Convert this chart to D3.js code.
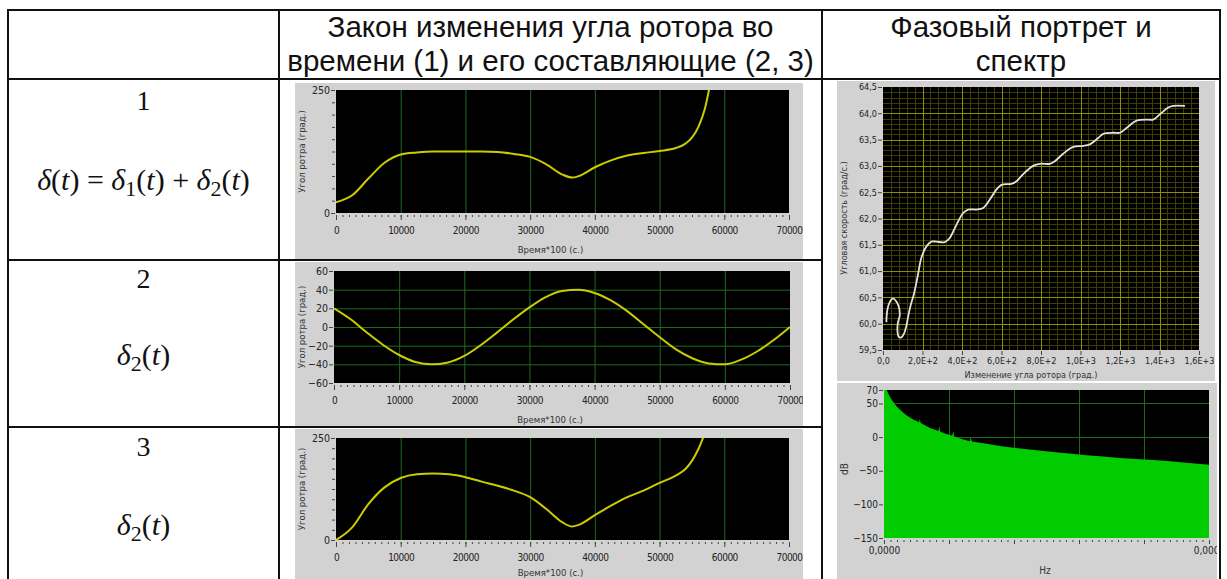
<!DOCTYPE html>
<html>
<head>
<meta charset="utf-8">
<script src="https://cdn.jsdelivr.net/npm/d3@7"></script>
<style>
  body { margin: 0; background: #fff; }
  svg { display: block; }
</style>
</head>
<body>
<script>
// values

// rows 1 and 3: rotor angle vs time (time*100, s)
var timeSteps   = [0, 2500, 5000, 7500, 10000, 12500, 15000, 17500, 20000, 22500, 25000, 27500, 30000, 32500,
                   35000, 36500, 37500, 40000, 42500, 45000, 47500, 50000, 52500, 54000, 55000, 56000, 57000, 58000];
var rotorAngle1 = [22, 36, 70, 102, 119, 123, 125, 125, 125, 125, 124, 120, 114, 99,
                   78, 72, 75, 93, 107, 117, 122, 126, 132, 141, 153, 175, 212, 275];
var rotorAngle3 = [0, 31, 88, 129, 152, 161, 163, 161, 154, 143, 133, 121, 105, 76,
                   43, 33, 37, 61, 84, 105, 121, 140, 158, 174, 194, 223, 262, 300];

// row 2: the harmonic component
var sineSteps   = [0, 2500, 5000, 7500, 10000, 12500, 15000, 17500, 20000, 22500, 25000, 27500, 30000, 32500, 35000,
                   37500, 40000, 42500, 45000, 47500, 50000, 52500, 55000, 57500, 60000, 62500, 65000, 67500, 70000];
var rotorAngle2 = [20, 8.5, -5.7, -19, -30, -37.5, -40, -38, -31, -19.5, -6, 8, 21, 32, 38.5,
                   40, 36.5, 28.5, 17, 3, -11, -24, -33.5, -39, -40, -35, -26, -14, 0];

var timeTicks = [0, 10000, 20000, 30000, 40000, 50000, 60000, 70000];

// phase portrait: rotor angle change (deg) vs angular speed (deg/s)
var phaseAngle = [17, 22, 34, 51, 66, 80, 85, 76, 73, 80, 93, 106, 119, 127, 140, 157, 177, 194, 220, 245, 270, 313, 338,
                  372, 405, 431, 473, 507, 541, 574, 600, 650, 676, 709, 760, 794, 845, 870, 912, 963, 1014, 1047,
                  1090, 1115, 1166, 1200, 1233, 1284, 1343, 1368, 1402, 1444, 1470, 1529];
var phaseSpeed = [60.03, 60.26, 60.41, 60.48, 60.43, 60.32, 60.16, 60.03, 59.87, 59.75, 59.74, 59.81, 59.97, 60.13, 60.35,
                  60.57, 60.93, 61.25, 61.47, 61.56, 61.56, 61.55, 61.63, 61.88, 62.10, 62.17, 62.17, 62.20, 62.36,
                  62.55, 62.64, 62.66, 62.71, 62.84, 63.00, 63.04, 63.04, 63.09, 63.23, 63.36, 63.38, 63.41, 63.53,
                  63.61, 63.63, 63.63, 63.72, 63.86, 63.88, 63.88, 63.98, 64.11, 64.14, 64.14];
var phaseXTicks  = [0, 200, 400, 600, 800, 1000, 1200, 1400, 1600];
var phaseXLabels = ['0,0', '2,0E+2', '4,0E+2', '6,0E+2', '8,0E+2', '1,0E+3', '1,2E+3', '1,4E+3', '1,6E+3'];
var phaseYTicks  = [59.5, 60, 60.5, 61, 61.5, 62, 62.5, 63, 63.5, 64, 64.5];

// spectrum: share of the frequency band vs dB
var spectrumFreq = [0, 0.006, 0.012, 0.018, 0.024, 0.03, 0.04, 0.055, 0.07, 0.09, 0.108, 0.110, 0.113, 0.14, 0.168,
                    0.17, 0.173, 0.19, 0.21, 0.213, 0.216, 0.24, 0.264, 0.267, 0.27, 0.316, 0.367, 0.418, 0.47,
                    0.52, 0.57, 0.623, 0.675, 0.725, 0.775, 0.828, 0.88, 0.93, 0.965, 1.0];
var spectrumDb   = [75, 72, 66, 60, 55, 51, 45, 38, 32, 26, 22, 27, 21, 14, 9,
                    17, 8, 5, 2, 9, 1, -3, -6, 0, -6.5, -10, -14, -17, -19.5,
                    -22, -24.5, -27, -29, -31, -32.5, -34, -36, -38, -39.5, -41];
var spectrumYTicks = [70, 50, 0, -50, -100, -150];

var W = 1227, H = 579
var smallFont = '"Liberation Sans Narrow","DejaVu Sans Condensed","Liberation Sans",sans-serif'
var panelGray = '#d2d2d2'
var gridGreen = '#1d6a1d'

var svg = d3.select('body').append('svg')
    .attr('width', W)
    .attr('height', H)
var defs = svg.append('defs')

function zip(xs, ys) {
  return xs.map(function (d, i) { return [d, ys[i]] })
}

function clipRect(id, x0, y0, x1, y1) {
  defs.append('clipPath').attr('id', id)
    .append('rect')
      .attr('x', x0).attr('y', y0)
      .attr('width', x1 - x0).attr('height', y1 - y0)
  return 'url(#' + id + ')'
}

function styleAxis(g, size) {
  g.select('.domain').remove()
  g.selectAll('line').attr('stroke', '#444')
  g.selectAll('text')
    .attr('fill', '#222')
    .style('font-family', smallFont)
    .style('font-size', size + 'px')
}

// ---- LabVIEW-like time chart (column 2) ----
function timeChart(id, c) {
  var g = svg.append('g').attr('clip-path', clipRect(id + 'panel', c.panel[0], c.panel[1], c.panel[2], c.panel[3]))
  g.append('rect')
      .attr('x', c.panel[0]).attr('y', c.panel[1])
      .attr('width', c.panel[2] - c.panel[0]).attr('height', c.panel[3] - c.panel[1])
      .attr('fill', panelGray)

  var x = d3.scaleLinear().domain([0, 70000]).range([c.l, c.r])
  var y = d3.scaleLinear().domain(c.yDomain).range([c.b, c.t])

  g.append('rect')
      .attr('x', c.l).attr('y', c.t)
      .attr('width', c.r - c.l).attr('height', c.b - c.t)
      .attr('fill', '#000')

  // grid
  g.selectAll('.vgrid')
      .data(timeTicks.slice(1, -1))
      .enter().append('line')
      .attr('x1', function (d) { return x(d) + 0.5 })
      .attr('x2', function (d) { return x(d) + 0.5 })
      .attr('y1', c.t).attr('y2', c.b)
      .attr('stroke', gridGreen)
  if (c.hGrid) {
    g.selectAll('.hgrid')
        .data(c.yTicks.slice(1, -1))
        .enter().append('line')
        .attr('y1', function (d) { return y(d) + 0.5 })
        .attr('y2', function (d) { return y(d) + 0.5 })
        .attr('x1', c.l).attr('x2', c.r)
        .attr('stroke', gridGreen)
  }

  // curve
  var line = d3.line()
      .x(function (d) { return x(d[0]) })
      .y(function (d) { return y(d[1]) })
      .curve(d3.curveMonotoneX)
  g.append('path')
      .datum(c.data)
      .attr('clip-path', clipRect(id + 'plot', c.l, c.t, c.r, c.b))
      .attr('d', line)
      .attr('fill', 'none')
      .attr('stroke', '#cccc00')
      .attr('stroke-width', 2)

  // y axis
  if (c.yMinor) {
    g.append('g')
        .attr('transform', 'translate(' + (c.l - 1) + ',0)')
        .call(d3.axisLeft(y).tickValues(c.yMinor).tickSize(3).tickFormat(''))
        .call(styleAxis, 10)
  }
  g.append('g')
      .attr('transform', 'translate(' + (c.l - 1) + ',0)')
      .call(d3.axisLeft(y).tickValues(c.yTicks).tickSize(4).tickPadding(1))
      .call(styleAxis, 10.5)

  // x axis
  g.append('g')
      .attr('transform', 'translate(0,' + (c.b + 2) + ')')
      .call(d3.axisBottom(x).tickValues(d3.range(0, 70001, 1000)).tickSize(2).tickFormat(''))
      .call(styleAxis, 10)
  g.append('g')
      .attr('transform', 'translate(0,' + (c.b + 2) + ')')
      .call(d3.axisBottom(x).tickValues(timeTicks).tickSize(5).tickPadding(7).tickFormat(d3.format('d')))
      .call(styleAxis, 10)
    .selectAll('text')
      .style('letter-spacing', '-0.5px')

  g.append('text')
      .attr('x', (c.l + c.r) / 2 - 12)
      .attr('y', Math.min(c.b + 40, c.panel[3] - 3))
      .attr('text-anchor', 'middle')
      .style('font-family', smallFont).style('font-size', '9.5px')
      .attr('fill', '#333')
      .text('Время*100 (с.)')
  g.append('text')
      .attr('transform', 'translate(' + (c.panel[0] + 10) + ',' + ((c.t + c.b) / 2) + ') rotate(-90)')
      .attr('text-anchor', 'middle')
      .style('font-family', smallFont).style('font-size', '9.5px')
      .attr('fill', '#333')
      .text('Угол ротра (град.)')
}

timeChart('c1', {
  panel: [295, 83, 803, 259], l: 336, r: 789, t: 90, b: 213,
  yDomain: [0, 250], yTicks: [0, 250], yMinor: d3.range(25, 250, 25),
  data: zip(timeSteps, rotorAngle1)
})
timeChart('c2', {
  panel: [295, 262, 803, 426], l: 334, r: 790, t: 271, b: 383,
  yDomain: [-60, 60], yTicks: [-60, -40, -20, 0, 20, 40, 60], hGrid: true,
  data: zip(sineSteps, rotorAngle2)
})
timeChart('c3', {
  panel: [295, 429, 803, 579], l: 336, r: 789, t: 438, b: 540,
  yDomain: [0, 250], yTicks: [0, 250], yMinor: d3.range(25, 250, 25),
  data: zip(timeSteps, rotorAngle3)
})

// ---- phase portrait ----
;(function () {
  var P = [837, 81, 1215, 381], l = 883, r = 1199, t = 87, b = 350
  var g = svg.append('g').attr('clip-path', clipRect('phpanel', P[0], P[1], P[2], P[3]))
  g.append('rect').attr('x', P[0]).attr('y', P[1])
      .attr('width', P[2] - P[0]).attr('height', P[3] - P[1]).attr('fill', panelGray)
  var x = d3.scaleLinear().domain([0, 1600]).range([l, r])
  var y = d3.scaleLinear().domain([59.5, 64.5]).range([b, t])
  g.append('rect').attr('x', l).attr('y', t).attr('width', r - l).attr('height', b - t).attr('fill', '#000')

  var minorX = d3.range(40, 1600, 40), minorY = d3.range(59.6, 64.45, 0.1)
  g.selectAll('.mx').data(minorX).enter().append('line')
      .attr('x1', function (d) { return Math.round(x(d)) + 0.5 })
      .attr('x2', function (d) { return Math.round(x(d)) + 0.5 })
      .attr('y1', t).attr('y2', b).attr('stroke', '#3e3e00')
  g.selectAll('.my').data(minorY).enter().append('line')
      .attr('y1', function (d) { return Math.round(y(d)) + 0.5 })
      .attr('y2', function (d) { return Math.round(y(d)) + 0.5 })
      .attr('x1', l).attr('x2', r).attr('stroke', '#3e3e00')
  g.selectAll('.gx').data(phaseXTicks.slice(1, -1)).enter().append('line')
      .attr('x1', function (d) { return Math.round(x(d)) + 0.5 })
      .attr('x2', function (d) { return Math.round(x(d)) + 0.5 })
      .attr('y1', t).attr('y2', b).attr('stroke', '#8f8f00')
  g.selectAll('.gy').data(phaseYTicks.slice(1, -1)).enter().append('line')
      .attr('y1', function (d) { return Math.round(y(d)) + 0.5 })
      .attr('y2', function (d) { return Math.round(y(d)) + 0.5 })
      .attr('x1', l).attr('x2', r).attr('stroke', '#8f8f00')

  var line = d3.line()
      .x(function (d) { return x(d[0]) })
      .y(function (d) { return y(d[1]) })
      .curve(d3.curveCatmullRom)
  g.append('path')
      .datum(zip(phaseAngle, phaseSpeed))
      .attr('d', line)
      .attr('fill', 'none')
      .attr('stroke', '#e2e2e2')
      .attr('stroke-width', 1.8)

  g.append('g')
      .attr('transform', 'translate(' + (l - 1) + ',0)')
      .call(d3.axisLeft(y).tickValues(phaseYTicks).tickSize(4).tickPadding(1)
        .tickFormat(function (d) { return d.toFixed(1).replace('.', ',') }))
      .call(styleAxis, 9)
  g.append('g')
      .attr('transform', 'translate(0,' + (b + 1) + ')')
      .call(d3.axisBottom(x).tickValues(phaseXTicks).tickSize(4).tickPadding(3)
        .tickFormat(function (d, i) { return phaseXLabels[i] }))
      .call(styleAxis, 9)

  g.append('text')
      .attr('x', (l + r) / 2 - 10).attr('y', 378)
      .attr('text-anchor', 'middle')
      .style('font-family', smallFont).style('font-size', '9px').attr('fill', '#333')
      .text('Изменение угла ротора (град.)')
  g.append('text')
      .attr('transform', 'translate(' + (P[0] + 10) + ',' + 218 + ') rotate(-90)')
      .attr('text-anchor', 'middle')
      .style('font-family', smallFont).style('font-size', '9px').attr('fill', '#333')
      .text('Угловая скорость (град/с.)')
})()

// ---- spectrum ----
;(function () {
  var P = [837, 383, 1217, 579], l = 884, r = 1209, t = 390, b = 538
  var g = svg.append('g').attr('clip-path', clipRect('sppanel', P[0], P[1], P[2], P[3]))
  g.append('rect').attr('x', P[0]).attr('y', P[1])
      .attr('width', P[2] - P[0]).attr('height', P[3] - P[1]).attr('fill', panelGray)
  var x = d3.scaleLinear().domain([0, 1]).range([l, r])
  var y = d3.scaleLinear().domain([-150, 70]).range([b, t])
  g.append('rect').attr('x', l).attr('y', t).attr('width', r - l).attr('height', b - t).attr('fill', '#000')

  g.selectAll('.gx').data([0.2, 0.4, 0.6, 0.8]).enter().append('line')
      .attr('x1', function (d) { return Math.round(x(d)) + 0.5 })
      .attr('x2', function (d) { return Math.round(x(d)) + 0.5 })
      .attr('y1', t).attr('y2', b).attr('stroke', gridGreen)
  g.selectAll('.gy').data(spectrumYTicks.slice(1, -1)).enter().append('line')
      .attr('y1', function (d) { return Math.round(y(d)) + 0.5 })
      .attr('y2', function (d) { return Math.round(y(d)) + 0.5 })
      .attr('x1', l).attr('x2', r).attr('stroke', gridGreen)

  var area = d3.area()
      .x(function (d) { return x(d[0]) })
      .y0(b)
      .y1(function (d) { return y(d[1]) })
  g.append('path')
      .datum(zip(spectrumFreq, spectrumDb))
      .attr('clip-path', clipRect('spplot', l, t, r, b))
      .attr('d', area)
      .attr('fill', '#00cc00')

  g.append('g')
      .attr('transform', 'translate(' + (l - 1) + ',0)')
      .call(d3.axisLeft(y).tickValues(spectrumYTicks).tickSize(4).tickPadding(1))
      .call(styleAxis, 10)
  g.append('g')
      .attr('transform', 'translate(0,' + (b + 2) + ')')
      .call(d3.axisBottom(x).tickValues(d3.range(0, 1.001, 0.02)).tickSize(2).tickFormat(''))
      .call(styleAxis, 10)
  g.append('g')
      .attr('transform', 'translate(0,' + (b + 2) + ')')
      .call(d3.axisBottom(x).tickValues([0, 0.2, 0.4, 0.6, 0.8, 1]).tickSize(4).tickPadding(3)
        .tickFormat(function (d) { return d === 0 || d === 1 ? '0,0000' : '' }))
      .call(styleAxis, 10)

  g.append('text')
      .attr('x', 1045).attr('y', 574)
      .attr('text-anchor', 'middle')
      .style('font-family', smallFont).style('font-size', '10px').attr('fill', '#333')
      .text('Hz')
  g.append('text')
      .attr('transform', 'translate(' + (P[0] + 11) + ',' + 469 + ') rotate(-90)')
      .attr('text-anchor', 'middle')
      .style('font-family', smallFont).style('font-size', '10px').attr('fill', '#333')
      .text('dB')
})()

// ---- table frame and text ----
var colX = [8, 279, 822, 1220]
var rowY = [10, 79, 260, 427]
var frame = svg.append('g').attr('stroke', '#111').attr('stroke-width', 2)
colX.forEach(function (cx) {
  frame.append('line').attr('x1', cx).attr('x2', cx).attr('y1', rowY[0] - 1).attr('y2', H)
})
rowY.forEach(function (ry, i) {
  // rows 2 and 3 split only the first two columns; the right column spans them
  var x2 = i < 2 ? colX[3] + 1 : colX[2]
  frame.append('line').attr('x1', colX[0] - 1).attr('x2', x2).attr('y1', ry).attr('y2', ry)
})

var headFont = '"Liberation Sans",Arial,sans-serif'
function headLine(cx, y, s) {
  svg.append('text')
      .attr('x', cx).attr('y', y)
      .attr('text-anchor', 'middle')
      .style('font-family', headFont).style('font-size', '29.5px')
      .attr('fill', '#111')
      .text(s)
}
headLine((colX[1] + colX[2]) / 2, 37, 'Закон изменения угла ротора во')
headLine((colX[1] + colX[2]) / 2, 71, 'времени (1) и его составляющие (2, 3)')
headLine((colX[2] + colX[3]) / 2, 37, 'Фазовый портрет и')
headLine((colX[2] + colX[3]) / 2, 71, 'спектр')

var serif = '"Liberation Serif","Times New Roman",serif'
var col1 = (colX[0] + colX[1]) / 2
;[['1', 110], ['2', 288], ['3', 456]].forEach(function (r) {
  svg.append('text')
      .attr('x', col1).attr('y', r[1])
      .attr('text-anchor', 'middle')
      .style('font-family', serif).style('font-size', '28px')
      .attr('fill', '#111')
      .text(r[0])
})

// formula pieces: [text, italic?, subscript?]
function formula(y, parts) {
  var t = svg.append('text')
      .attr('x', col1).attr('y', y)
      .attr('text-anchor', 'middle')
      .style('font-family', serif).style('font-size', '30px')
      .attr('fill', '#111')
  var down = false
  parts.forEach(function (p) {
    var s = t.append('tspan').text(p[0])
    if (p[1]) s.style('font-style', 'italic')
    if (p[2]) { s.attr('dy', 6).style('font-size', '22px'); down = true }
    else if (down) { s.attr('dy', -6); down = false }
  })
}
var delta2 = [['δ', true], ['2', false, true], ['(', false], ['t', true], [')', false]]
formula(190, [['δ', true], ['(', false], ['t', true], [')', false], [' = ', false],
              ['δ', true], ['1', false, true], ['(', false], ['t', true], [')', false], [' + ', false],
              ['δ', true], ['2', false, true], ['(', false], ['t', true], [')', false]])
formula(365, delta2)
formula(535, delta2)
</script>
</body>
</html>
